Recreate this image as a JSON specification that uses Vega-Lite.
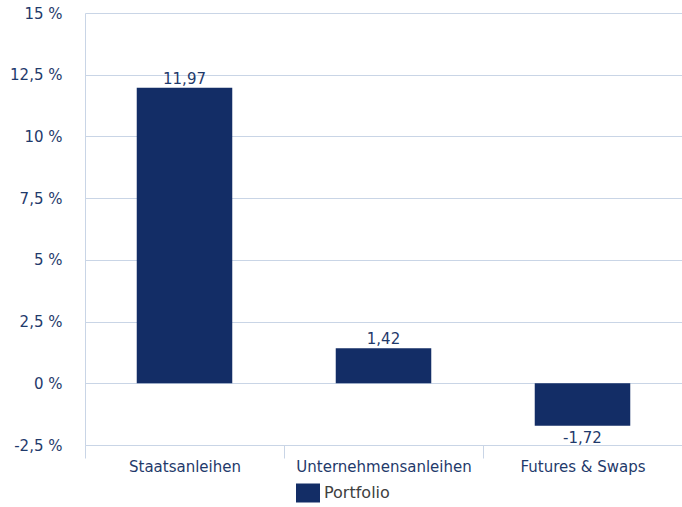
{
  "$schema": "https://vega.github.io/schema/vega-lite/v6.json",
  "autosize": "none",
  "width": 597,
  "height": 432,
  "padding": {"left": 85, "top": 13, "right": 0, "bottom": 62},
  "background": "white",
  "config": {
    "view": {"stroke": null},
    "font": "DejaVu Sans"
  },
  "data": {
    "values": [
      {"kategorie": "Staatsanleihen", "wert": 11.97, "label": "11,97", "serie": "Portfolio"},
      {"kategorie": "Unternehmensanleihen", "wert": 1.42, "label": "1,42", "serie": "Portfolio"},
      {"kategorie": "Futures & Swaps", "wert": -1.72, "label": "-1,72", "serie": "Portfolio"}
    ]
  },
  "encoding": {
    "x": {
      "field": "kategorie",
      "type": "nominal",
      "sort": null,
      "scale": {"paddingInner": 0, "paddingOuter": 0},
      "axis": {
        "title": null,
        "labelAngle": 0,
        "tickBand": "extent",
        "tickSize": 13,
        "tickColor": "#c9d5e6",
        "domainColor": "#c9d5e6",
        "labelColor": "#1f3a6b",
        "labelFontSize": 15,
        "labelPadding": 1,
        "grid": false
      }
    },
    "y": {
      "field": "wert",
      "type": "quantitative",
      "scale": {"domain": [-2.5, 15], "nice": false, "zero": false},
      "axis": {
        "title": null,
        "values": [-2.5, 0, 2.5, 5, 7.5, 10, 12.5, 15],
        "labelExpr": "replace(toString(datum.value), '.', ',') + ' %'",
        "ticks": false,
        "labelPadding": 23,
        "labelColor": "#1f3a6b",
        "labelFontSize": 15,
        "grid": true,
        "gridColor": "#c9d5e6",
        "domainColor": "#c9d5e6"
      }
    }
  },
  "layer": [
    {
      "mark": {"type": "bar", "width": {"band": 0.48}},
      "encoding": {
        "color": {
          "field": "serie",
          "type": "nominal",
          "scale": {"range": ["#132d66"]},
          "legend": {
            "title": null,
            "orient": "none",
            "legendX": 213,
            "legendY": 470,
            "symbolType": "M-1.2,-0.95H1.2V0.95H-1.2Z",
            "symbolSize": 400,
            "symbolStrokeWidth": 0,
            "labelFontSize": 16,
            "labelColor": "#404040",
            "labelOffset": 6
          }
        }
      }
    },
    {
      "transform": [{"filter": "datum.wert >= 0"}],
      "mark": {"type": "text", "baseline": "alphabetic", "dy": -4, "fontSize": 15, "color": "#1f3a6b"},
      "encoding": {"text": {"field": "label"}}
    },
    {
      "transform": [{"filter": "datum.wert < 0"}],
      "mark": {"type": "text", "baseline": "alphabetic", "dy": 17, "fontSize": 15, "color": "#1f3a6b"},
      "encoding": {"text": {"field": "label"}}
    }
  ]
}
